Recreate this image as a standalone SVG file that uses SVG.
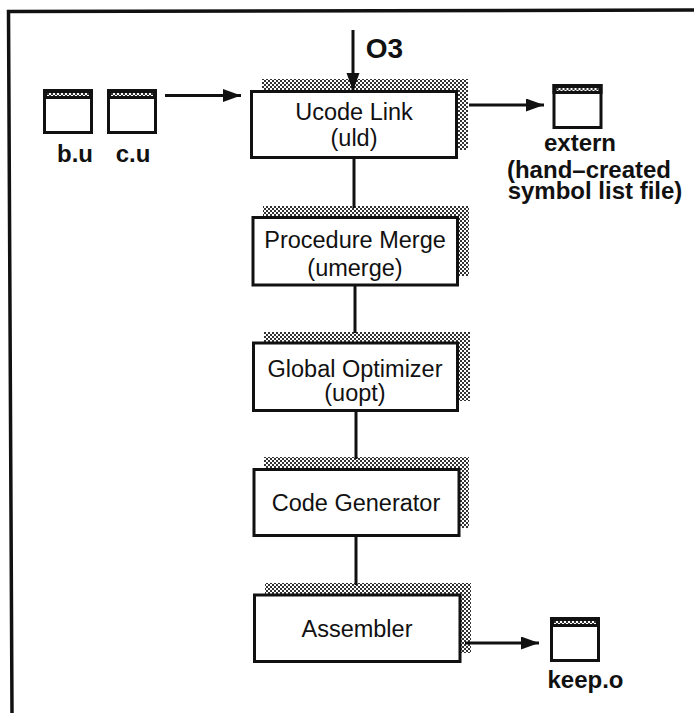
<svg xmlns="http://www.w3.org/2000/svg" width="694" height="713" viewBox="0 0 694 713">
<style>
text{font-family:"Liberation Sans",Arial,sans-serif;fill:#111;text-anchor:middle}
.n{font-size:23.5px}
.b{font-size:24px;font-weight:bold}
.box{fill:#fff;stroke:#111;stroke-width:3}
.l{stroke:#111;stroke-width:3;fill:none}
.doc{fill:#fff;stroke:#111;stroke-width:3}
</style>
<defs>
<pattern id="h" width="4" height="4" patternUnits="userSpaceOnUse">
<rect width="4" height="4" fill="#fff"/>
<rect width="2" height="2" fill="#333"/>
<rect x="2" y="2" width="2" height="2" fill="#333"/>
</pattern>
<marker id="a" markerUnits="userSpaceOnUse" markerWidth="20" markerHeight="14" refX="18" refY="6.500" orient="auto">
<path d="M0 0L18 6.500L0 13Z" fill="#111"/>
</marker>
<g id="d">
<rect x="1.500" y="1.500" width="47" height="42" class="doc"/>
<rect x="0" y="0" width="50" height="10" fill="#111"/>
<rect x="4" y="4" width="42" height="3" fill="url(#h)"/>
</g>
</defs>
<rect x="0" y="0" width="694" height="713" fill="#fff"/>
<path d="M12 713L8.500 11.500L694 10" fill="none" stroke="#111" stroke-width="3.500"/>
<g id="ucode-link">
<path d="M262 79H468V150H457V91H262Z" fill="url(#h)"/>
<rect x="251.500" y="91.500" width="205" height="66" class="box"/>
<text class="n" x="354" y="120">Ucode Link</text>
<text class="n" x="354" y="146">(uld)</text>
</g>
<g id="procedure-merge">
<path d="M263 206H469V276H458V217H263Z" fill="url(#h)"/>
<rect x="253" y="217.500" width="204.500" height="67.500" class="box"/>
<text class="n" x="355" y="248">Procedure Merge</text>
<text class="n" x="355" y="276">(umerge)</text>
</g>
<g id="global-optimizer">
<path d="M264 332H470V401H458V343H264Z" fill="url(#h)"/>
<rect x="253.500" y="343" width="204" height="67.500" class="box"/>
<text class="n" x="355" y="377">Global Optimizer</text>
<text class="n" x="355" y="401">(uopt)</text>
</g>
<g id="code-generator">
<path d="M264 457H469V528H459V469H264Z" fill="url(#h)"/>
<rect x="254" y="469.500" width="205" height="66" class="box"/>
<text class="n" x="356" y="511">Code Generator</text>
</g>
<g id="assembler">
<path d="M265 583H471V653H460V595H265Z" fill="url(#h)"/>
<rect x="254.500" y="595" width="205.500" height="66.500" class="box"/>
<text class="n" x="357" y="637">Assembler</text>
</g>
<g id="connectors">
<path class="l" d="M353 30V91" marker-end="url(#a)"/>
<path class="l" d="M165 95.500H241" marker-end="url(#a)"/>
<path class="l" d="M469 105H544" marker-end="url(#a)"/>
<path class="l" d="M354 159V208"/>
<path class="l" d="M355 286V333"/>
<path class="l" d="M356 411V459"/>
<path class="l" d="M356 536V585"/>
<path class="l" d="M465 643H539" marker-end="url(#a)"/>
</g>
<g id="b-u"><use href="#d" x="43" y="89"/><text class="b" x="75" y="162">b.u</text></g>
<g id="c-u"><use href="#d" x="107" y="89"/><text class="b" x="133" y="162">c.u</text></g>
<g id="extern"><use href="#d" x="552.500" y="84"/><text class="b" x="580" y="151">extern</text></g>
<g id="extern-note">
<text class="b" x="589" y="178">(hand–created</text>
<text class="b" x="595" y="199">symbol list file)</text>
</g>
<g id="keep-o"><use href="#d" x="550" y="617"/><text class="b" x="585.500" y="688">keep.o</text></g>
<text x="384.500" y="58" style="font-size:28px;font-weight:bold">O3</text>
</svg>
